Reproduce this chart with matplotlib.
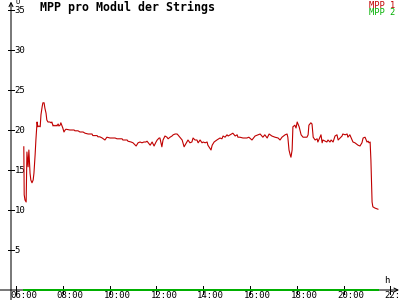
import matplotlib
matplotlib.use("Agg")
import matplotlib.pyplot as plt

# -----------------------------
# DATA
# -----------------------------
mpp1_times = [
    "06:20", "06:21", "06:23", "06:26", "06:28", "06:31", "06:33", "06:36", "06:38", "06:41",
    "06:44", "06:46", "06:49", "06:51", "06:54", "06:56", "06:59", "07:02", "07:04", "07:07",
    "07:09", "07:12", "07:14", "07:17", "07:19", "07:22", "07:27", "07:30", "07:32", "07:35",
    "07:37", "07:40", "07:43", "07:45", "07:48", "07:50", "07:53", "07:55", "07:58", "08:00",
    "08:03", "08:06", "08:08", "08:18", "08:29", "08:31", "08:39", "08:44", "08:52", "08:57",
    "09:05", "09:15", "09:17", "09:28", "09:30", "09:35", "09:41", "09:48", "09:53", "10:01",
    "10:14", "10:19", "10:32", "10:34", "10:45", "10:47", "10:55", "11:00", "11:08", "11:13",
    "11:18", "11:23", "11:28", "11:33", "11:36", "11:44", "11:49", "11:54", "11:59", "12:02",
    "12:07", "12:09", "12:14", "12:17", "12:22", "12:27", "12:30", "12:35", "12:40", "12:43",
    "12:48", "12:53", "12:55", "13:00", "13:06", "13:08", "13:11", "13:18", "13:21", "13:26",
    "13:31", "13:34", "13:39", "13:44", "13:47", "13:52", "13:57", "14:00", "14:05", "14:10",
    "14:12", "14:20", "14:23", "14:28", "14:35", "14:43", "14:48", "14:51", "14:56", "15:01",
    "15:04", "15:16", "15:22", "15:27", "15:29", "15:34", "15:42", "15:52", "15:57", "16:05",
    "16:13", "16:26", "16:33", "16:38", "16:44", "16:49", "16:56", "17:04", "17:12", "17:17",
    "17:22", "17:30", "17:35", "17:37", "17:40", "17:43", "17:45", "17:48", "17:50", "17:55",
    "17:58", "18:01", "18:06", "18:11", "18:16", "18:26", "18:29", "18:31", "18:36", "18:39",
    "18:42", "18:47", "18:52", "18:54", "19:02", "19:05", "19:07", "19:17", "19:20", "19:25",
    "19:28", "19:33", "19:38", "19:43", "19:46", "19:56", "19:58", "20:04", "20:09", "20:11",
    "20:16", "20:22", "20:24", "20:29", "20:37", "20:42", "20:47", "20:50", "20:55", "21:00",
    "21:03", "21:05", "21:08", "21:10", "21:13", "21:15", "21:20", "21:28",
]
mpp1_values = [
    17.9, 11.9, 11.25, 11.0, 17.25, 15.4, 17.5, 14.6, 13.75, 13.4,
    13.75, 14.6, 16.9, 18.75, 21.0, 20.4, 20.5, 20.4, 21.9, 22.9,
    23.4, 23.4, 22.75, 22.1, 21.25, 21.0, 21.0, 20.9, 21.0, 20.5,
    20.6, 20.5, 20.6, 20.5, 20.75, 20.5, 20.6, 20.9, 20.5, 20.25,
    19.75, 20.0, 20.1, 20.0, 20.0, 19.9, 19.9, 19.75, 19.75, 19.6,
    19.5, 19.5, 19.3, 19.3, 19.15, 19.15, 19.0, 18.75, 19.1, 19.0,
    19.0, 18.9, 18.9, 18.75, 18.75, 18.6, 18.5, 18.4, 18.0, 18.4,
    18.5, 18.4, 18.5, 18.5, 18.6, 18.1, 18.5, 18.0, 18.5, 18.75,
    19.0, 19.0, 17.9, 18.75, 19.25, 19.1, 18.9, 19.1, 19.25, 19.4,
    19.5, 19.5, 19.4, 19.1, 18.75, 18.4, 17.9, 18.5, 18.75, 18.4,
    18.5, 19.0, 18.75, 18.75, 18.4, 18.75, 18.4, 18.5, 18.4, 18.5,
    18.1, 17.5, 18.1, 18.5, 18.75, 19.0, 18.9, 19.25, 19.1, 19.4,
    19.25, 19.6, 19.25, 19.4, 19.1, 19.1, 19.0, 19.0, 19.1, 18.75,
    19.25, 19.5, 19.1, 19.4, 19.0, 19.5, 19.25, 19.1, 19.0, 18.75,
    19.1, 19.4, 19.5, 19.1, 17.5, 16.9, 16.6, 17.5, 20.4, 20.6,
    20.25, 21.0, 20.4, 19.4, 19.1, 19.1, 19.4, 20.6, 20.9, 20.75,
    19.1, 18.75, 18.9, 18.5, 19.4, 18.4, 18.75, 18.5, 18.75, 18.5,
    18.75, 18.5, 19.25, 19.4, 18.75, 19.25, 19.5, 19.4, 19.5, 19.1,
    19.4, 18.75, 18.5, 18.4, 18.1, 18.0, 18.4, 19.0, 19.1, 18.5,
    18.6, 18.4, 18.5, 16.25, 11.0, 10.4, 10.25, 10.1,
]
mpp2_times = ["06:20", "21:28"]
mpp2_values = [0.0, 0.0]

y_ticks = [5, 10, 15, 20, 25, 30, 35]
x_ticks = [6, 8, 10, 12, 14, 16, 18, 20, 22]
x_tick_labels = ["06:00", "08:00", "10:00", "12:00", "14:00", "16:00", "18:00", "20:00", "22:"]

TITLE = "MPP pro Modul der Strings"
RED = "#c00000"
GREEN = "#00b000"

# -----------------------------
# HELPERS
# -----------------------------
def to_hours(t):
    hh, mm = t.split(":")
    return int(hh) + int(mm) / 60.0

X_MIN, X_MAX = 5.316, 22.41
Y_MIN, Y_MAX = -1.25, 36.25
PX_X = (X_MAX - X_MIN) / 400.0   # hours per pixel
PX_Y = (Y_MAX - Y_MIN) / 300.0   # volts per pixel
Y_AXIS_X = X_MIN + 11 * PX_X

plt.rcParams["font.family"] = ["DejaVu Sans Mono"]

fig = plt.figure(figsize=(4, 3), dpi=100)
fig.patch.set_facecolor("white")
ax = fig.add_axes([0, 0, 1, 1])
ax.set_xlim(X_MIN, X_MAX)
ax.set_ylim(Y_MIN, Y_MAX)
ax.axis("off")

# -----------------------------
# AXES (hand drawn, with arrows)
# -----------------------------
ax.annotate("", xy=(Y_AXIS_X, Y_MAX - 0.2), xytext=(Y_AXIS_X, Y_MIN),
            arrowprops=dict(arrowstyle="->", lw=0.75, color="black",
                            shrinkA=0, shrinkB=0, mutation_scale=7))
ax.annotate("", xy=(X_MAX - PX_X, 0), xytext=(X_MIN, 0),
            arrowprops=dict(arrowstyle="->", lw=0.75, color="black",
                            shrinkA=0, shrinkB=0, mutation_scale=7))

for v in y_ticks:
    ax.plot([Y_AXIS_X - 3 * PX_X, Y_AXIS_X + 3 * PX_X], [v, v],
            color="black", lw=0.7, antialiased=False)
    ax.text(Y_AXIS_X + 3.5 * PX_X, v - 0.5 * PX_Y, str(v), fontsize=6.5,
            ha="left", va="center", color="black")

for h, lab in zip(x_ticks, x_tick_labels):
    ax.plot([h, h], [-4 * PX_Y, 4 * PX_Y], color="black", lw=0.7, antialiased=False)
    ax.text(h - 6 * PX_X, Y_MIN + 0.5 * PX_Y, lab, fontsize=6.5,
            ha="left", va="bottom", color="black")

ax.text(Y_AXIS_X + 4 * PX_X, Y_MAX + 1 * PX_Y, "U", fontsize=5, ha="left", va="top")
ax.text(X_MAX - 13 * PX_X, 5 * PX_Y, "h", fontsize=6.5, ha="center", va="bottom")

# -----------------------------
# SERIES
# -----------------------------
ax.plot([to_hours(t) for t in mpp2_times], mpp2_values,
        color=GREEN, lw=1.2, antialiased=False, zorder=3)
ax.plot([to_hours(t) for t in mpp1_times], mpp1_values,
        color=RED, lw=0.8, zorder=4)

# -----------------------------
# TITLE + LEGEND
# -----------------------------
fig.text(40 / 400, 1 - 1 / 300, TITLE, fontsize=8.4, fontweight="bold",
         ha="left", va="top", color="black")
fig.text(395 / 400, 1 - 0.5 / 300, "MPP 1", fontsize=6.3, ha="right", va="top", color=RED)
fig.text(395 / 400, 1 - 8 / 300, "MPP 2", fontsize=6.3, ha="right", va="top", color=GREEN)

fig.savefig("out.png", dpi=100, facecolor="white")
